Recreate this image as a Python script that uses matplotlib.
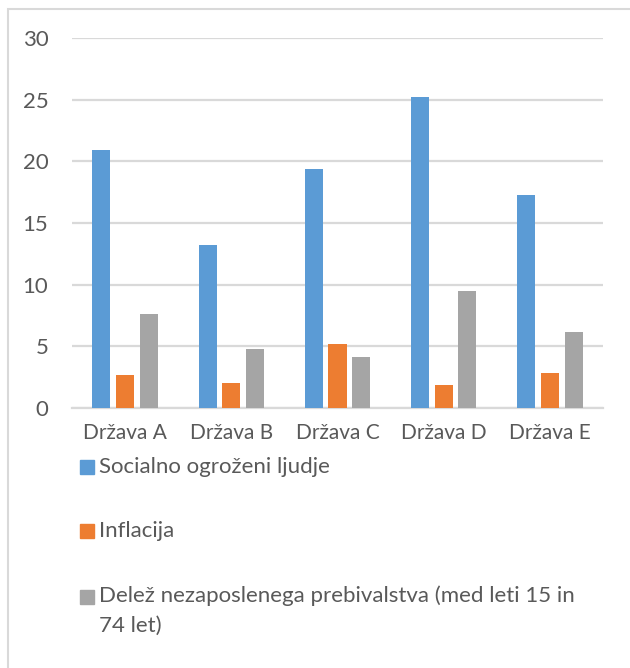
import numpy as np
import matplotlib.pyplot as plt
from matplotlib.patches import Rectangle

plt.rcParams['font.family'] = ['Lato', 'DejaVu Sans']

drzave = ['Država A', 'Država B', 'Država C', 'Država D', 'Država E']
socialno = [20.9, 13.2, 19.4, 25.2, 17.3]
inflacija = [2.7, 2.0, 5.2, 1.9, 2.8]
brezposelni = [7.6, 4.8, 4.1, 9.5, 6.2]

series_labels = ['Socialno ogroženi ljudje', 'Inflacija',
                 'Delež nezaposlenega prebivalstva (med leti 15 in\n74 let)']
colors = ['#5b9bd5', '#ed7d31', '#a5a5a5']
text_col = '#595959'

fig = plt.figure(figsize=(6.3, 6.68), dpi=100)
ax = fig.add_axes([72 / 630, 1 - 408 / 668, 531 / 630, 370 / 668])

x = np.arange(len(drzave))
w = 0.17
for off, vals, c in zip([-0.223, 0, 0.223], [socialno, inflacija, brezposelni], colors):
    ax.bar(x + off, vals, width=w, color=c, zorder=3)

ax.set_xlim(-0.5, len(drzave) - 0.5)
ax.set_ylim(0, 30)
ax.set_yticks(range(0, 31, 5))
ax.yaxis.grid(True, color='#d9d9d9', linewidth=1.6, zorder=0)
ax.set_xticks(x)
ax.set_xticklabels(drzave)
ax.tick_params(length=0, labelsize=15, colors=text_col)
ax.tick_params(axis='y', labelsize=16, pad=17)
ax.tick_params(axis='x', pad=11)
for s in ['top', 'right', 'left']:
    ax.spines[s].set_visible(False)
ax.spines['bottom'].set_color('#d9d9d9')
ax.spines['bottom'].set_linewidth(1.6)

# legend below the axis, drawn by hand
rows_y = [467, 531, 597]
for lab, c, yy in zip(series_labels, colors, rows_y):
    fig.patches.append(Rectangle((80 / 630, 1 - (yy + 7) / 668), 14 / 630, 14 / 668,
                                 transform=fig.transFigure, color=c))
    fig.text(99 / 630, 1 - yy / 668, lab, fontsize=16, color=text_col,
             va='top' if '\n' in lab else 'center', linespacing=1.65)
fig.texts[-1].set_position((99 / 630, 1 - (yy - 12) / 668))

# chart border
fig.patches.append(Rectangle((8 / 630, -0.05), 1.0, 1 - 9 / 668 + 0.05, transform=fig.transFigure,
                             fill=False, edgecolor='#d9d9d9', linewidth=1.5))

fig.savefig('out.png', dpi=100)
